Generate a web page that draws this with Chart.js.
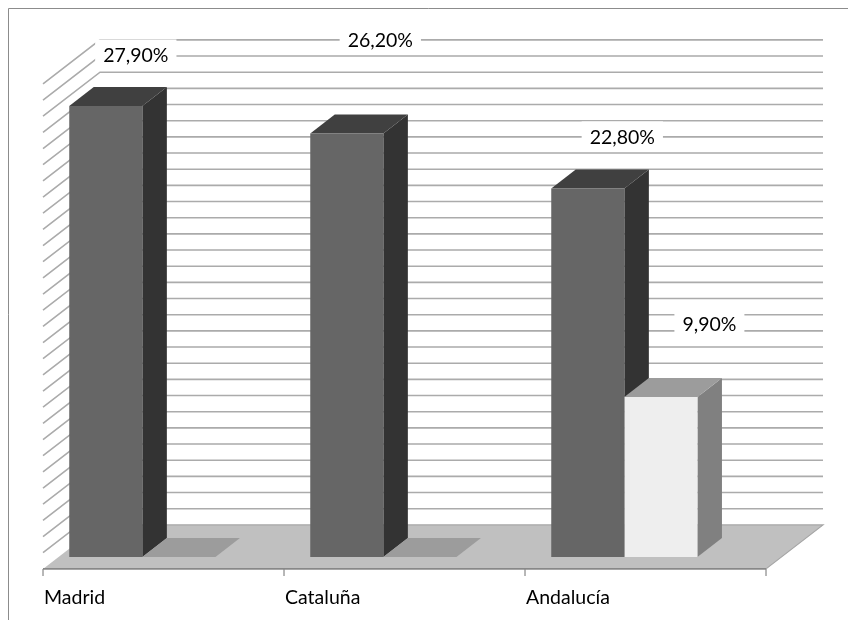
<!DOCTYPE html>
<html>
<head>
<meta charset="utf-8">
<title>Madrid, Cataluña, Andalucía</title>
<script src="https://cdn.jsdelivr.net/npm/chart.js@4.4.0/dist/chart.umd.min.js"></script>
<style>
  html, body { margin: 0; padding: 0; background: #ffffff; }
  canvas { display: block; }
</style>
</head>
<body>
<canvas id="chart" width="848" height="620"></canvas>
<script>
// ---- data ----
const categories = ['Madrid', 'Cataluña', 'Andalucía'];
const serie1 = [27.9, 26.2, 22.8];
const serie2 = [0, 0, 9.9];
const serie3 = [null, null, null];   // empty third series (reserves its slot)
const valueMin = 0;
const valueMax = 30;
const valueStep = 1;

// ---- look ----
const FONT = 'Lato, "Open Sans", "DejaVu Sans", sans-serif';
const barStyles = [
  { front: '#666666', top: '#404040', side: '#333333' },
  { front: '#eeeeee', top: '#9c9c9c', side: '#808080' },
  { front: 'rgba(0,0,0,0)', top: 'rgba(0,0,0,0)', side: 'rgba(0,0,0,0)' }
];
// oblique depth of the floor (front edge -> back wall), in px
const DEPTH = { x: 57, y: -44 };
// planes along the depth, relative to the bars' front plane (fractions of DEPTH)
const PLANE_FRONT_EDGE = -0.27;
const PLANE_BAR_BACK = 0.43;
const PLANE_BACK_WALL = 0.73;
// value-label box centres, relative to the top centre of each bar's front face
const labelOffsets = [
  [[30, -51.5], [33.5, -93.5], [34.5, -52]],
  [null, null, [48.5, -73]],
  [null, null, null]
];

function shift(f) { return { x: DEPTH.x * f, y: DEPTH.y * f }; }
function fmt(v) { return v.toFixed(2).replace('.', ',') + '%'; }

function poly(ctx, pts, fill) {
  ctx.beginPath();
  ctx.moveTo(pts[0][0], pts[0][1]);
  for (let i = 1; i < pts.length; i++) ctx.lineTo(pts[i][0], pts[i][1]);
  ctx.closePath();
  ctx.fillStyle = fill;
  ctx.fill();
}

const depthPlugin = {
  id: 'depth3d',
  beforeDatasetsDraw(chart) {
    const { ctx, chartArea: a, scales: { x, y } } = chart;
    const fe = shift(PLANE_FRONT_EDGE);
    const bw = shift(PLANE_BACK_WALL);
    const bb = shift(PLANE_BAR_BACK);
    const base = y.getPixelForValue(valueMin);
    ctx.save();

    // outer frame
    ctx.strokeStyle = '#8c8c8c';
    ctx.lineWidth = 1;
    ctx.beginPath();
    ctx.moveTo(8.5, chart.height);
    ctx.lineTo(8.5, 8.5);
    ctx.lineTo(chart.width, 8.5);
    ctx.stroke();

    // floor
    const floor = [
      [a.left + fe.x, base + fe.y],
      [a.right + fe.x, base + fe.y],
      [a.right + bw.x, base + bw.y],
      [a.left + bw.x, base + bw.y]
    ];
    poly(ctx, floor, '#c0c0c0');
    ctx.strokeStyle = '#a6a6a6';
    ctx.lineWidth = 1.2;
    ctx.beginPath();
    ctx.moveTo(floor[1][0], floor[1][1]);
    ctx.lineTo(floor[2][0], floor[2][1]);
    ctx.lineTo(floor[3][0], floor[3][1]);
    ctx.stroke();
    ctx.strokeStyle = '#888888';
    ctx.lineWidth = 1.6;
    ctx.beginPath();
    ctx.moveTo(floor[0][0], floor[0][1]);
    ctx.lineTo(floor[1][0], floor[1][1]);
    ctx.stroke();

    // gridlines on the back wall and the left side wall
    ctx.strokeStyle = '#ababab';
    ctx.lineWidth = 1.6;
    y.ticks.forEach(t => {
      if (t.value === valueMin) return;
      const py = y.getPixelForValue(t.value);
      ctx.beginPath();
      ctx.moveTo(a.left + fe.x, py + fe.y);
      ctx.lineTo(a.left + bw.x, py + bw.y);
      ctx.lineTo(a.right + bw.x, py + bw.y);
      ctx.stroke();
    });

    // category ticks and labels along the floor's front edge
    const n = categories.length;
    const catW = (a.right - a.left) / n;
    ctx.strokeStyle = '#888888';
    ctx.lineWidth = 1.2;
    for (let i = 0; i <= n; i++) {
      const cx = (i < n ? x.getPixelForValue(i) - catW / 2 : x.getPixelForValue(n - 1) + catW / 2) + fe.x;
      ctx.beginPath();
      ctx.moveTo(cx, base + fe.y);
      ctx.lineTo(cx, base + fe.y + 7);
      ctx.stroke();
    }
    ctx.fillStyle = '#000000';
    ctx.font = '19.5px ' + FONT;
    ctx.textAlign = 'left';
    ctx.textBaseline = 'middle';
    categories.forEach((c, i) => {
      const cx = x.getPixelForValue(i) - catW / 2 + fe.x;
      ctx.fillText(c, cx + 1, base + fe.y + 29);
    });

    // side and top faces, left to right so nearer faces overlap
    for (let i = 0; i < n; i++) {
      chart.data.datasets.forEach((ds, d) => {
        if (ds.data[i] === null) return;
        const el = chart.getDatasetMeta(d).data[i];
        const p = el.getProps(['x', 'y', 'base', 'width'], true);
        const l = p.x - p.width / 2, r = p.x + p.width / 2;
        const st = barStyles[d];
        poly(ctx, [[r, p.y], [r + bb.x, p.y + bb.y], [r + bb.x, p.base + bb.y], [r, p.base]], st.side);
        poly(ctx, [[l, p.y], [r, p.y], [r + bb.x, p.y + bb.y], [l + bb.x, p.y + bb.y]], st.top);
      });
    }
    ctx.restore();
  },
  afterDatasetsDraw(chart) {
    const { ctx } = chart;
    ctx.save();
    ctx.font = '19.5px ' + FONT;
    ctx.textAlign = 'center';
    ctx.textBaseline = 'middle';
    chart.data.datasets.forEach((ds, d) => {
      ds.data.forEach((v, i) => {
        const off = labelOffsets[d][i];
        if (v === null || v === 0 || !off) return;
        const el = chart.getDatasetMeta(d).data[i];
        const p = el.getProps(['x', 'y'], true);
        const text = fmt(v);
        const cx = p.x + off[0], cy = p.y + off[1];
        const w = ctx.measureText(text).width + 16, h = 30;
        ctx.fillStyle = '#ffffff';
        ctx.fillRect(cx - w / 2, cy - h / 2, w, h);
        ctx.fillStyle = '#000000';
        ctx.fillText(text, cx, cy + 1);
      });
    });
    ctx.restore();
  }
};

new Chart(document.getElementById('chart'), {
  type: 'bar',
  data: {
    labels: categories,
    datasets: [serie1, serie2, serie3].map((vals, d) => ({
      label: 'Serie ' + (d + 1),
      data: vals,
      backgroundColor: barStyles[d].front,
      borderWidth: 0,
      barPercentage: 1,
      categoryPercentage: 0.91
    }))
  },
  options: {
    responsive: false,
    devicePixelRatio: 1,
    animation: false,
    layout: { padding: { left: 58.4, right: 66.6, top: 72, bottom: 63 } },
    plugins: { legend: { display: false }, tooltip: { enabled: false } },
    scales: {
      x: { display: false },
      y: {
        display: false, min: valueMin, max: valueMax,
        ticks: { stepSize: valueStep, maxTicksLimit: 100, autoSkip: false }
      }
    }
  },
  plugins: [depthPlugin]
});
</script>
</body>
</html>
